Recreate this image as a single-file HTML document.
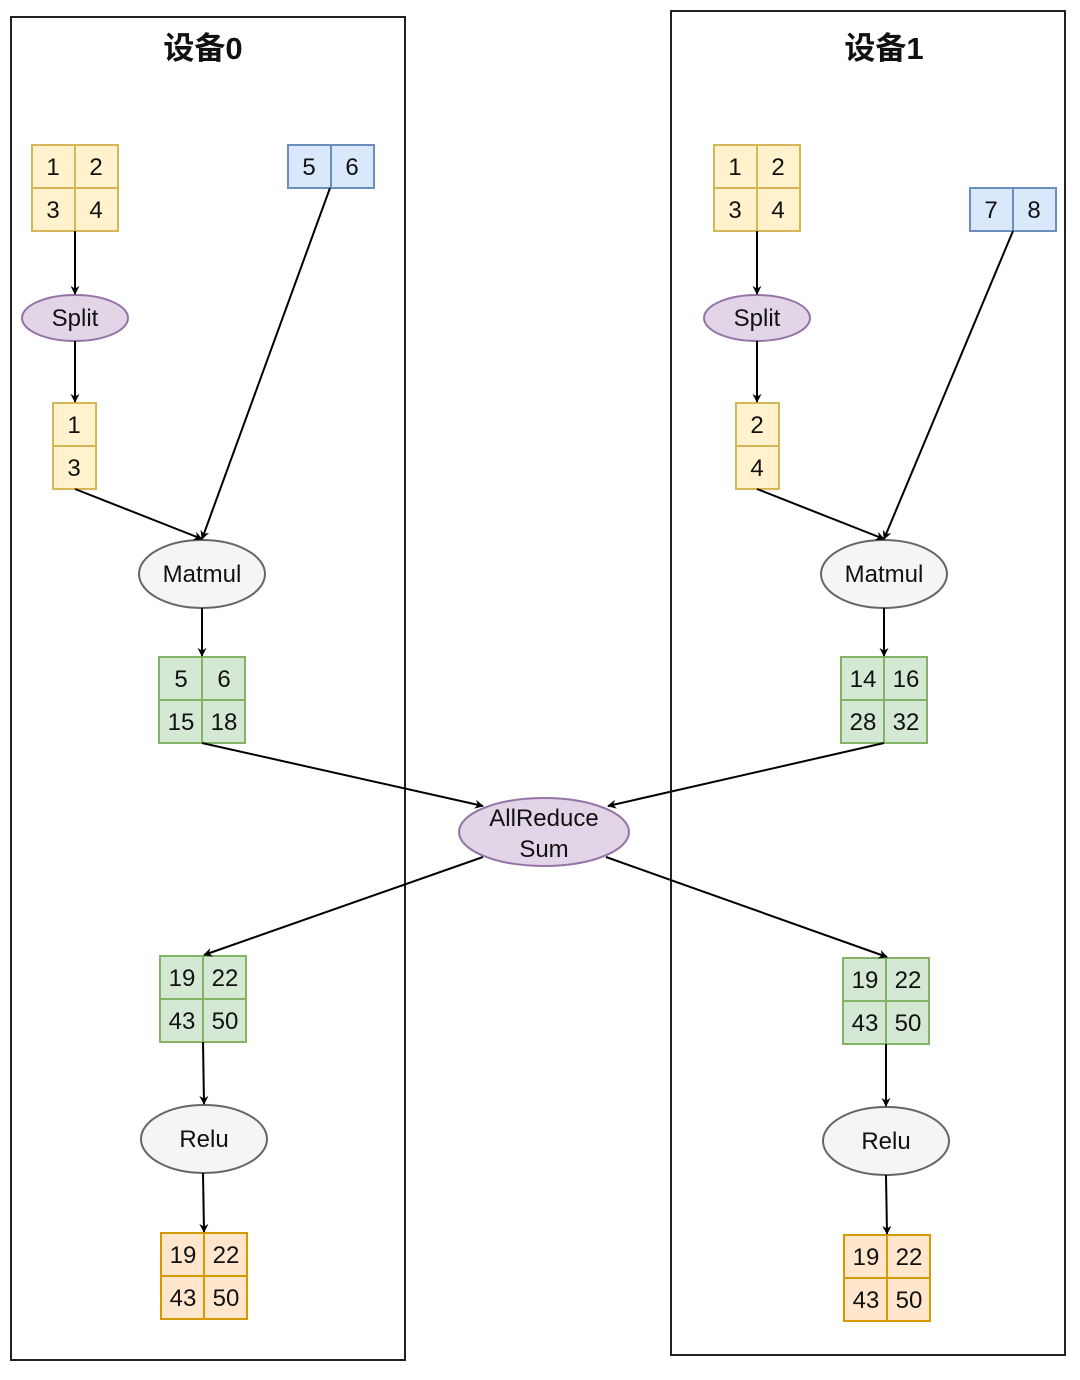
<!DOCTYPE html>
<html><head><meta charset="utf-8"><style>
html,body{margin:0;padding:0;background:#fff;}
svg text{font-family:"Liberation Sans","Noto Sans CJK SC",sans-serif;fill:#111;}
</style></head><body>
<svg width="1080" height="1375" viewBox="0 0 1080 1375" xmlns="http://www.w3.org/2000/svg">
<defs>
<marker id="a" viewBox="0 0 10 10" refX="9" refY="5" markerWidth="9" markerHeight="9" orient="auto" markerUnits="userSpaceOnUse">
<path d="M0,0 L10,5 L0,10 L3,5 Z" fill="#000"/></marker>
</defs>
<rect x="11" y="17" width="394" height="1343" fill="none" stroke="#222" stroke-width="2"/>
<rect x="671" y="11" width="394" height="1344" fill="none" stroke="#222" stroke-width="2"/>
<text x="203" y="59" font-size="31" font-weight="bold" text-anchor="middle">设备0</text>
<text x="884" y="59" font-size="31" font-weight="bold" text-anchor="middle">设备1</text>

<g stroke-width="2" font-size="24" text-anchor="middle">
<!-- left yellow -->
<g fill="#fff2cc" stroke="#d6b656"><rect x="32" y="145" width="43" height="43"/><rect x="75" y="145" width="43" height="43"/><rect x="32" y="188" width="43" height="43"/><rect x="75" y="188" width="43" height="43"/></g>
<text x="53" y="175">1</text><text x="96" y="175">2</text><text x="53" y="218">3</text><text x="96" y="218">4</text>
<g fill="#dae8fc" stroke="#6c8ebf"><rect x="288" y="145" width="43" height="43"/><rect x="331" y="145" width="43" height="43"/></g>
<text x="309" y="175">5</text><text x="352" y="175">6</text>
<ellipse cx="75" cy="318" rx="53" ry="23" fill="#e1d5e7" stroke="#9673a6"/><text x="75" y="326">Split</text>
<g fill="#fff2cc" stroke="#d6b656"><rect x="53" y="403" width="43" height="43"/><rect x="53" y="446" width="43" height="43"/></g>
<text x="74" y="433">1</text><text x="74" y="476">3</text>
<ellipse cx="202" cy="574" rx="63" ry="34" fill="#f5f5f5" stroke="#666"/><text x="202" y="582">Matmul</text>
<g fill="#d5e8d4" stroke="#82b366"><rect x="159" y="657" width="43" height="43"/><rect x="202" y="657" width="43" height="43"/><rect x="159" y="700" width="43" height="43"/><rect x="202" y="700" width="43" height="43"/></g>
<text x="181" y="687">5</text><text x="224" y="687">6</text><text x="181" y="730">15</text><text x="224" y="730">18</text>
<g fill="#d5e8d4" stroke="#82b366"><rect x="160" y="956" width="43" height="43"/><rect x="203" y="956" width="43" height="43"/><rect x="160" y="999" width="43" height="43"/><rect x="203" y="999" width="43" height="43"/></g>
<text x="182" y="986">19</text><text x="225" y="986">22</text><text x="182" y="1029">43</text><text x="225" y="1029">50</text>
<ellipse cx="204" cy="1139" rx="63" ry="34" fill="#f5f5f5" stroke="#666"/><text x="204" y="1147">Relu</text>
<g fill="#ffe6cc" stroke="#d79b00"><rect x="161" y="1233" width="43" height="43"/><rect x="204" y="1233" width="43" height="43"/><rect x="161" y="1276" width="43" height="43"/><rect x="204" y="1276" width="43" height="43"/></g>
<text x="183" y="1263">19</text><text x="226" y="1263">22</text><text x="183" y="1306">43</text><text x="226" y="1306">50</text>

<!-- right -->
<g fill="#fff2cc" stroke="#d6b656"><rect x="714" y="145" width="43" height="43"/><rect x="757" y="145" width="43" height="43"/><rect x="714" y="188" width="43" height="43"/><rect x="757" y="188" width="43" height="43"/></g>
<text x="735" y="175">1</text><text x="778" y="175">2</text><text x="735" y="218">3</text><text x="778" y="218">4</text>
<g fill="#dae8fc" stroke="#6c8ebf"><rect x="970" y="188" width="43" height="43"/><rect x="1013" y="188" width="43" height="43"/></g>
<text x="991" y="218">7</text><text x="1034" y="218">8</text>
<ellipse cx="757" cy="318" rx="53" ry="23" fill="#e1d5e7" stroke="#9673a6"/><text x="757" y="326">Split</text>
<g fill="#fff2cc" stroke="#d6b656"><rect x="736" y="403" width="43" height="43"/><rect x="736" y="446" width="43" height="43"/></g>
<text x="757" y="433">2</text><text x="757" y="476">4</text>
<ellipse cx="884" cy="574" rx="63" ry="34" fill="#f5f5f5" stroke="#666"/><text x="884" y="582">Matmul</text>
<g fill="#d5e8d4" stroke="#82b366"><rect x="841" y="657" width="43" height="43"/><rect x="884" y="657" width="43" height="43"/><rect x="841" y="700" width="43" height="43"/><rect x="884" y="700" width="43" height="43"/></g>
<text x="863" y="687">14</text><text x="906" y="687">16</text><text x="863" y="730">28</text><text x="906" y="730">32</text>
<g fill="#d5e8d4" stroke="#82b366"><rect x="843" y="958" width="43" height="43"/><rect x="886" y="958" width="43" height="43"/><rect x="843" y="1001" width="43" height="43"/><rect x="886" y="1001" width="43" height="43"/></g>
<text x="865" y="988">19</text><text x="908" y="988">22</text><text x="865" y="1031">43</text><text x="908" y="1031">50</text>
<ellipse cx="886" cy="1141" rx="63" ry="34" fill="#f5f5f5" stroke="#666"/><text x="886" y="1149">Relu</text>
<g fill="#ffe6cc" stroke="#d79b00"><rect x="844" y="1235" width="43" height="43"/><rect x="887" y="1235" width="43" height="43"/><rect x="844" y="1278" width="43" height="43"/><rect x="887" y="1278" width="43" height="43"/></g>
<text x="866" y="1265">19</text><text x="909" y="1265">22</text><text x="866" y="1308">43</text><text x="909" y="1308">50</text>

<ellipse cx="544" cy="832" rx="85" ry="34" fill="#e1d5e7" stroke="#9673a6"/>
<text x="544" y="826">AllReduce</text><text x="544" y="857">Sum</text>
</g>

<g stroke="#000" stroke-width="2" fill="none" marker-end="url(#a)">
<line x1="75" y1="231" x2="75" y2="294"/>
<line x1="75" y1="341" x2="75" y2="402"/>
<line x1="75" y1="489" x2="202" y2="539"/>
<line x1="330" y1="188" x2="202" y2="539"/>
<line x1="202" y1="608" x2="202" y2="656"/>
<line x1="202" y1="743" x2="483" y2="806"/>
<line x1="483" y1="857" x2="204" y2="955"/>
<line x1="203" y1="1042" x2="204" y2="1104"/>
<line x1="203" y1="1173" x2="204" y2="1232"/>

<line x1="757" y1="231" x2="757" y2="294"/>
<line x1="757" y1="341" x2="757" y2="402"/>
<line x1="757" y1="489" x2="884" y2="539"/>
<line x1="1013" y1="231" x2="884" y2="539"/>
<line x1="884" y1="608" x2="884" y2="656"/>
<line x1="884" y1="743" x2="608" y2="806"/>
<line x1="606" y1="857" x2="887" y2="957"/>
<line x1="886" y1="1044" x2="886" y2="1106"/>
<line x1="886" y1="1175" x2="887" y2="1234"/>
</g>
</svg>
</body></html>
